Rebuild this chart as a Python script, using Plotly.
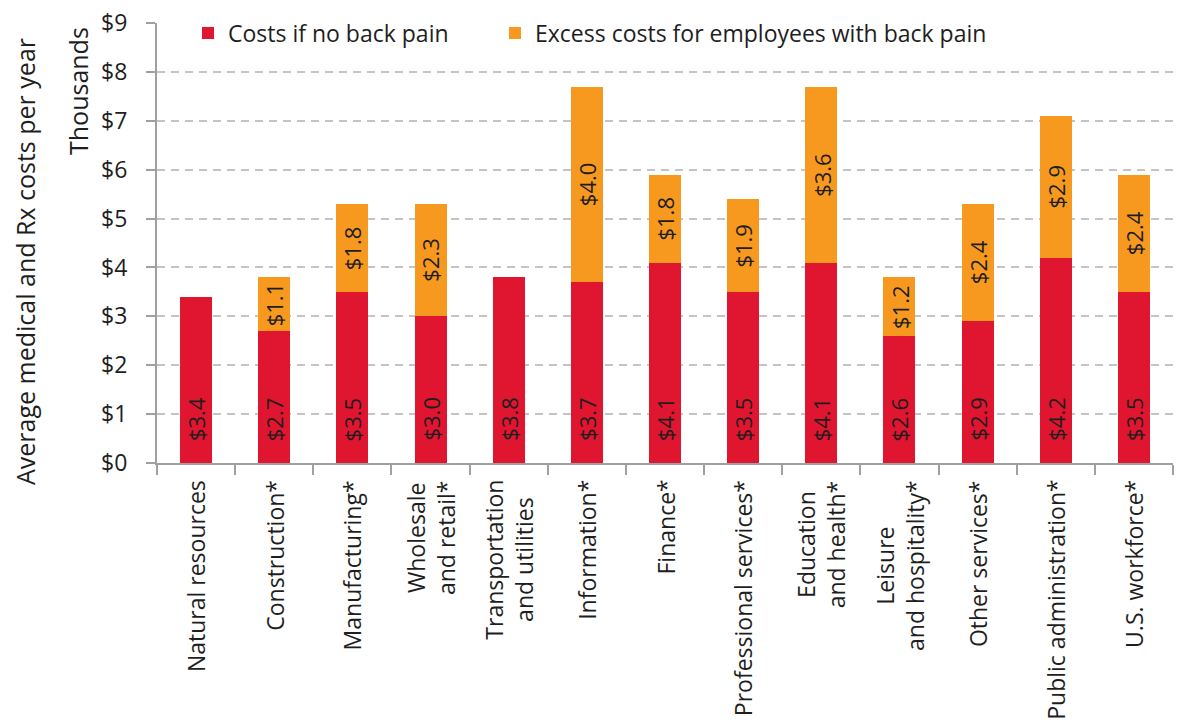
import plotly.graph_objects as go

# Industry categories (line breaks for the two-line labels)
categories = [
    "Natural resources", "Construction*", "Manufacturing*", "Wholesale<br>and retail*",
    "Transportation<br>and utilities", "Information*", "Finance*", "Professional services*",
    "Education<br>and health*", "Leisure<br>and hospitality*", "Other services*",
    "Public administration*", "U.S. workforce*",
]
# Thousands of dollars per employee per year
base_costs = [3.4, 2.7, 3.5, 3.0, 3.8, 3.7, 4.1, 3.5, 4.1, 2.6, 2.9, 4.2, 3.5]
excess_costs = [0.0, 1.1, 1.8, 2.3, 0.0, 4.0, 1.8, 1.9, 3.6, 1.2, 2.4, 2.9, 2.4]
y_ticks = [0, 1, 2, 3, 4, 5, 6, 7, 8, 9]

RED = "#E01530"
ORANGE = "#F7991E"
FONT = "Open Sans"
INK = "#1e1e1e"
FS = 23

W, H = 1180, 723
ML, MR, MT, MB = 157, 7, 23, 260
pw, ph = W - ML - MR, H - MT - MB


def px_x(x):
    return (x - ML) / pw


def px_y(y):
    return (H - MB - y) / ph


fig = go.Figure()
fig.add_trace(go.Bar(
    x=categories, y=base_costs, name="Costs if no back pain",
    marker=dict(color=RED, line=dict(width=0)), width=0.41,
    legend="legend", showlegend=True,
))
fig.add_trace(go.Bar(
    x=categories, y=excess_costs, name="Excess costs for employees with back pain",
    marker=dict(color=ORANGE, line=dict(width=0)), width=0.41,
    legend="legend2", showlegend=True,
))

annotations = []
# Value labels: base cost near the bar foot, excess cost centred in its segment
for cat, b, e in zip(categories, base_costs, excess_costs):
    annotations.append(dict(
        x=cat, y=0, xref="x", yref="y", text=f"${b:.1f}", textangle=-90,
        showarrow=False, yanchor="bottom", xanchor="center", yshift=20,
        font=dict(family=FONT, size=22, color=INK),
    ))
    if e > 0:
        annotations.append(dict(
            x=cat, y=b + e / 2, xref="x", yref="y", text=f"${e:.1f}", textangle=-90,
            showarrow=False, yanchor="middle", xanchor="center",
            font=dict(family=FONT, size=22, color=INK),
        ))

# Category labels, rotated, with centred line alignment
for cat in categories:
    annotations.append(dict(
        x=cat, y=0, xref="x", yref="paper", text=cat, textangle=-90, align="center",
        showarrow=False, yanchor="top", xanchor="center", yshift=-15,
        font=dict(family=FONT, size=FS, color=INK),
    ))

# Axis titles
annotations.append(dict(
    x=px_x(25), y=px_y(262), xref="paper", yref="paper",
    text="Average medical and Rx costs per year",
    textangle=-90, showarrow=False, xanchor="center", yanchor="middle",
    font=dict(family=FONT, size=25, color=INK),
))
annotations.append(dict(
    x=px_x(78), y=px_y(91), xref="paper", yref="paper", text="Thousands",
    textangle=-90, showarrow=False, xanchor="center", yanchor="middle",
    font=dict(family=FONT, size=25, color=INK),
))

legend_common = dict(
    orientation="h", xanchor="left", y=px_y(33), yanchor="middle",
    bgcolor="rgba(0,0,0,0)", font=dict(family=FONT, size=FS, color=INK),
)

fig.update_layout(
    width=W, height=H, barmode="stack", bargap=0.59, showlegend=True,
    margin=dict(l=ML, r=MR, t=MT, b=MB),
    paper_bgcolor="white", plot_bgcolor="white",
    font=dict(family=FONT, size=FS, color=INK),
    annotations=annotations,
    legend=dict(x=px_x(188), **legend_common),
    legend2=dict(x=px_x(495), **legend_common),
    xaxis=dict(
        type="category", range=[-0.5, len(categories) - 0.5],
        showticklabels=False, ticks="outside", ticklen=10, tickwidth=2,
        tickcolor="#a0a0a0", tickson="boundaries",
        showline=True, linecolor="#a0a0a0", linewidth=2, showgrid=False,
    ),
    yaxis=dict(
        range=[0, 9], tickvals=y_ticks, ticktext=[f"${v}" for v in y_ticks],
        ticks="outside", ticklen=9, tickwidth=2, tickcolor="#a0a0a0",
        showline=True, linecolor="#a0a0a0", linewidth=2,
        showgrid=True, gridcolor="#c4c4c4", gridwidth=2, griddash="8px,6px",
        zeroline=False, ticklabelstandoff=14,
        tickfont=dict(family=FONT, size=FS, color=INK),
    ),
)

fig.write_html("out.html")
